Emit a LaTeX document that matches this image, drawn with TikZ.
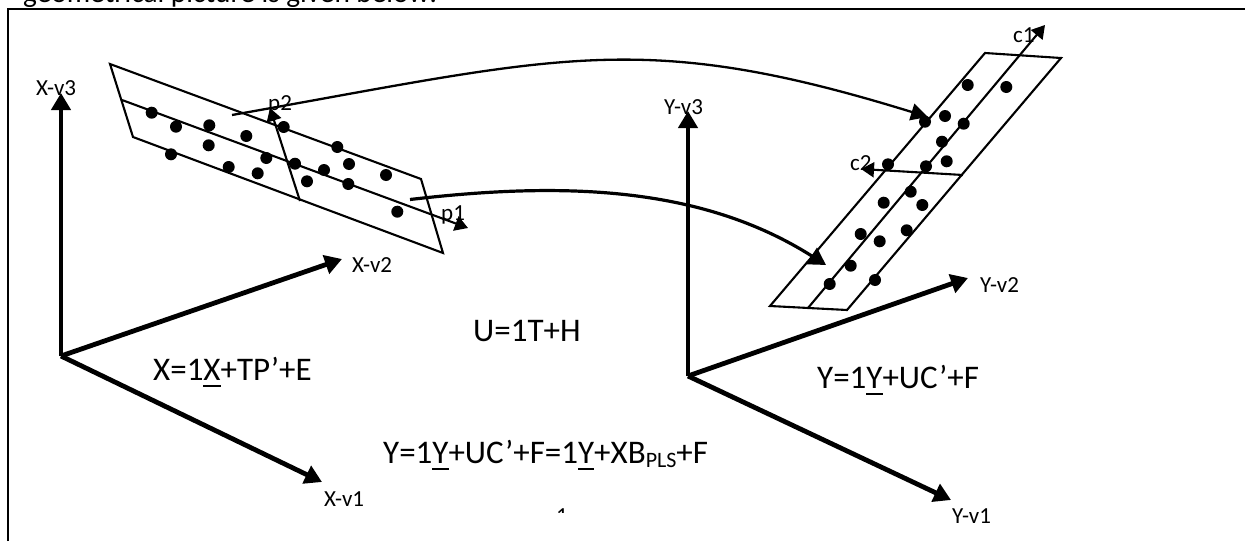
\documentclass[tikz,border=0pt]{standalone}
\usepackage{fontspec}
\setmainfont{Carlito}
\usetikzlibrary{arrows.meta}
\newcommand\ubar[1]{\leavevmode\setbox0\hbox{#1}\rlap{\rule[-7pt]{\wd0}{2.2pt}}\box0}
\tikzset{
  axisline/.style={line width=4.8pt,-{Triangle[length=17pt,width=19pt]}},
  planeline/.style={line width=2.1pt,line join=miter},
  vecline/.style={line width=2.1pt,-{Triangle[length=13pt,width=15pt]}},
  curveA/.style={line width=2.3pt,-{Triangle[length=17pt,width=17pt]}},
  curveB/.style={line width=3.2pt,-{Triangle[length=17pt,width=19pt]}},
  dot/.style={circle,fill=black,inner sep=0pt,minimum size=12pt},
  smalllabel/.style={anchor=base west,inner sep=0pt,font=\fontsize{23}{26}\selectfont},
  eqlabel/.style={anchor=base west,inner sep=0pt,font=\fontsize{33}{38}\selectfont},
}
\begin{document}
\begin{tikzpicture}[x=1pt,y=-1pt]
\useasboundingbox (0,0) rectangle (1245,541);
% clipped caption above the frame
\begin{scope}
\clip (0,0) rectangle (1245,6.5);
\node[anchor=base west,inner sep=0pt,font=\fontsize{29.3}{34}\selectfont] (caption) at (23,2) {geometrical picture is given below:};
\end{scope}
% frame
\coordinate (fa) at (8,541); \coordinate (fb) at (8,9); \coordinate (fc) at (1245,9);
\draw[line width=2.2pt] (fa) -- (fb) -- (fc);
% axes
\coordinate (xo) at (61,356); \coordinate (xv3) at (61,93); \coordinate (xv2) at (342,259); \coordinate (xv1) at (322,482);
\coordinate (yo) at (688,376); \coordinate (yv3) at (688,111); \coordinate (yv2) at (968,278); \coordinate (yv1) at (951,500);
\draw[axisline] (xo) -- (xv3);
\draw[axisline] (xo) -- (xv2);
\draw[axisline] (xo) -- (xv1);
\draw[axisline] (yo) -- (yv3);
\draw[axisline] (yo) -- (yv2);
\draw[axisline] (yo) -- (yv1);
% left plane
\coordinate (la) at (110,64); \coordinate (lb) at (421,179); \coordinate (lc) at (443,253); \coordinate (ld) at (133,137);
\coordinate (lm) at (122,100); \coordinate (lp1) at (468,228); \coordinate (ln) at (300,201); \coordinate (lp2) at (270,108);
\draw[planeline] (la) -- (lb) -- (lc) -- (ld) -- cycle;
\draw[vecline] (lm) -- (lp1);
\draw[vecline] (ln) -- (lp2);
% right plane
\coordinate (ra) at (985,53); \coordinate (rb) at (1061,58); \coordinate (rc) at (847,310); \coordinate (rd) at (770,306);
\coordinate (rm) at (808,308); \coordinate (rc1) at (1045,25); \coordinate (rn) at (963,175); \coordinate (rc2) at (861,169);
\draw[planeline] (ra) -- (rb) -- (rc) -- (rd) -- cycle;
\draw[vecline] (rm) -- (rc1);
\draw[vecline] (rn) -- (rc2);
% dots
\foreach \n/\p in {1/{151.7,112.7},2/{176,126.7},3/{209.3,125.3},4/{246.3,136},5/{208.7,145.3},6/{171,154.3},7/{228.7,167},8/{257.7,173.3},9/{266.3,158},10/{283.7,127},11/{295,163.7},12/{307,181.3},13/{324,170},14/{337.3,147},15/{349,164},16/{348.3,184},17/{386,175},18/{397.3,211.7}}
  \node[dot] (ld\n) at (\p) {};
\foreach \n/\p in {1/{967.7,85},2/{1006.3,87},3/{945,116},4/{963.7,123.7},5/{925,121.7},6/{942,141.7},7/{946.7,161.3},8/{926,166.3},9/{888,164.3},10/{910.7,191.7},11/{922.3,205},12/{883.7,202.7},13/{860.7,234},14/{879.7,241.3},15/{906.7,230.3},16/{850.7,265.7},17/{829.7,284},18/{875,280}}
  \node[dot] (rd\n) at (\p) {};
% curved connectors
\coordinate (ca) at (232,115); \coordinate (cb) at (928,117);
\coordinate (cc) at (410,199.5); \coordinate (cd) at (826,265);
\draw[curveA] (ca) .. controls (560,57) and (640,28) .. (cb);
\draw[curveB] (cc) .. controls (560,182) and (700,185) .. (cd);
% labels
\node[smalllabel] (tx3) at (36,95) {X-v3};
\node[smalllabel] (tx2) at (352,272) {X-v2};
\node[smalllabel] (tx1) at (324,506) {X-v1};
\node[smalllabel] (ty3) at (664,114) {Y-v3};
\node[smalllabel] (ty2) at (980,292) {Y-v2};
\node[smalllabel] (ty1) at (952,523) {Y-v1};
\node[smalllabel] (tp2) at (268,110) {p2};
\node[smalllabel] (tp1) at (441,220) {p1};
\node[smalllabel] (tc1) at (1013,42) {c1};
\node[smalllabel] (tc2) at (850,170) {c2};
% equations
\node[eqlabel] (e1) at (153,380) {X=1\ubar{X}+TP’+E};
\node[eqlabel] (e2) at (473,341) {U=1T+H};
\node[eqlabel] (e3) at (817,388) {Y=1\ubar{Y}+UC’+F};
\node[eqlabel] (e4) at (383,463) {Y=1\ubar{Y}+UC’+F=1\ubar{Y}+XB\raisebox{-4pt}{\fontsize{22}{22}\selectfont PLS}+F};
% clipped page number
\begin{scope}
\clip (540,500) rectangle (590,512);
\node[anchor=base,inner sep=0pt,font=\fontsize{23}{26}\selectfont] (pg) at (562,523) {1};
\end{scope}
\end{tikzpicture}
\end{document}
